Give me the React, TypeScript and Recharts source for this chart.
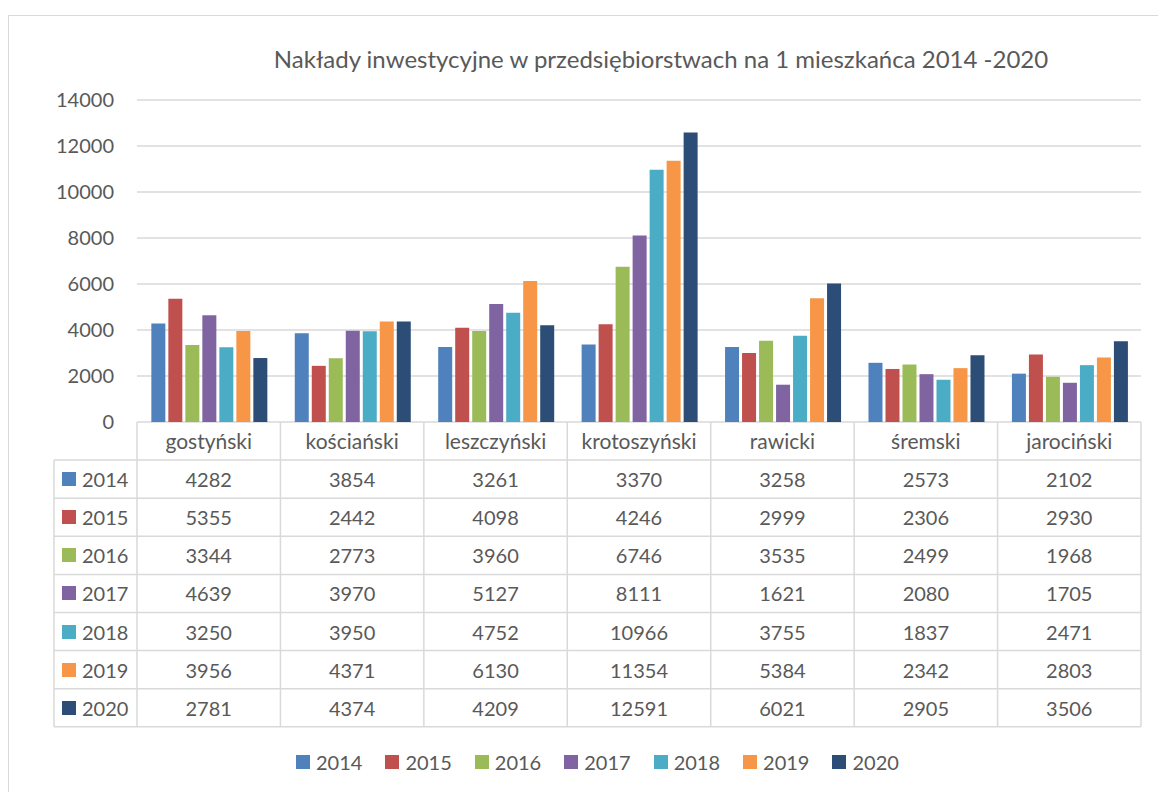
import { BarChart, Bar, XAxis, YAxis, CartesianGrid } from 'recharts';

const categories = ['gostyński', 'kościański', 'leszczyński', 'krotoszyński', 'rawicki', 'śremski', 'jarociński'];
const years = ['2014', '2015', '2016', '2017', '2018', '2019', '2020'];
const v2014 = [4282, 3854, 3261, 3370, 3258, 2573, 2102];
const v2015 = [5355, 2442, 4098, 4246, 2999, 2306, 2930];
const v2016 = [3344, 2773, 3960, 6746, 3535, 2499, 1968];
const v2017 = [4639, 3970, 5127, 8111, 1621, 2080, 1705];
const v2018 = [3250, 3950, 4752, 10966, 3755, 1837, 2471];
const v2019 = [3956, 4371, 6130, 11354, 5384, 2342, 2803];
const v2020 = [2781, 4374, 4209, 12591, 6021, 2905, 3506];
const yTicks = [0, 2000, 4000, 6000, 8000, 10000, 12000, 14000];

const colors = ['#4F81BD', '#C0504D', '#9BBB59', '#8064A2', '#4BACC6', '#F79646', '#2C4D75'];
const series = [v2014, v2015, v2016, v2017, v2018, v2019, v2020];

const data = categories.map((name, i) => {
  const row: Record<string, string | number> = { name };
  years.forEach((y, s) => (row[y] = series[s][i]));
  return row;
});

const font = 'Lato, "Open Sans", sans-serif';
const textColor = '#595959';
const lineColor = '#d9d9d9';

// plot area geometry
const plotLeft = 137;
const plotRight = 1141;
const plotTop = 100;
const plotBottom = 422;
const colW = (plotRight - plotLeft) / categories.length;
const keyLeft = 54;
const rowH = 38.1;

export default function App() {
  return (
    <div style={{ position: 'relative', width: 1158, height: 792, overflow: 'hidden', background: '#fff', fontFamily: font, color: textColor }}>
      <style>{'body{margin:0}'}</style>
      <div style={{ position: 'absolute', left: 8, top: 15, width: 1170, height: 800, border: `1px solid ${lineColor}`, boxSizing: 'border-box' }} />
      <div style={{ position: 'absolute', left: 661, top: 44, transform: 'translateX(-50%)', whiteSpace: 'nowrap', fontSize: 24 }}>
        Nakłady inwestycyjne w przedsiębiorstwach na 1 mieszkańca 2014 -2020
      </div>
      <div style={{ position: 'absolute', left: 0, top: 0 }}>
        <BarChart
          width={1158}
          height={440}
          data={data}
          margin={{ top: plotTop, right: 1158 - plotRight, left: plotLeft - 60, bottom: 440 - plotBottom }}
          barCategoryGap="10%"
          barGap={3}
        >
          <CartesianGrid vertical={false} stroke={lineColor} strokeWidth={1.5} />
          <XAxis dataKey="name" hide />
          <YAxis
            width={60}
            domain={[0, 14000]}
            ticks={yTicks}
            axisLine={false}
            tickLine={false}
            tickMargin={17}
            tick={{ fill: textColor, fontSize: 20, fontFamily: font }}
          />
          {years.map((y, s) => (
            <Bar key={y} dataKey={y} fill={colors[s]} isAnimationActive={false} />
          ))}
        </BarChart>
      </div>

      {/* data table */}
      {categories.map((c, i) => (
        <div
          key={c}
          style={{
            position: 'absolute',
            left: plotLeft + i * colW,
            top: plotBottom,
            width: colW,
            height: rowH,
            lineHeight: `${rowH}px`,
            textAlign: 'center',
            fontSize: 21,
          }}
        >
          {c}
        </div>
      ))}
      {years.map((y, s) => (
        <div key={y}>
          <div
            style={{
              position: 'absolute',
              left: keyLeft,
              top: plotBottom + (s + 1) * rowH,
              width: plotLeft - keyLeft,
              height: rowH,
              lineHeight: `${rowH}px`,
              fontSize: 20,
              display: 'flex',
              alignItems: 'center',
            }}
          >
            <span style={{ display: 'inline-block', width: 14, height: 14, background: colors[s], marginLeft: 8, marginRight: 6 }} />
            {y}
          </div>
          {series[s].map((v, i) => (
            <div
              key={i}
              style={{
                position: 'absolute',
                left: plotLeft + i * colW,
                top: plotBottom + (s + 1) * rowH,
                width: colW,
                height: rowH,
                lineHeight: `${rowH}px`,
                textAlign: 'center',
                fontSize: 20,
              }}
            >
              {v}
            </div>
          ))}
        </div>
      ))}
      {/* table lines */}
      <svg style={{ position: 'absolute', left: 0, top: 0 }} width={1158} height={792}>
        {Array.from({ length: 8 }, (_, r) => {
          const yy = plotBottom + (r + 1) * rowH;
          return <line key={'h' + r} x1={keyLeft} x2={plotRight} y1={yy} y2={yy} stroke={lineColor} strokeWidth={1.5} />;
        })}
        {Array.from({ length: 8 }, (_, c) => {
          const xx = plotLeft + c * colW;
          return <line key={'v' + c} x1={xx} x2={xx} y1={plotBottom} y2={plotBottom + 8 * rowH} stroke={lineColor} strokeWidth={1.5} />;
        })}
        <line x1={keyLeft} x2={keyLeft} y1={plotBottom + rowH} y2={plotBottom + 8 * rowH} stroke={lineColor} strokeWidth={1.5} />
      </svg>

      {/* legend */}
      <div style={{ position: 'absolute', left: 296, top: 748, display: 'flex', fontSize: 20, lineHeight: '28px' }}>
        {years.map((y, s) => (
          <div key={y} style={{ display: 'flex', alignItems: 'center', marginRight: 23 }}>
            <span style={{ display: 'inline-block', width: 14, height: 14, background: colors[s], marginRight: 6 }} />
            {y}
          </div>
        ))}
      </div>
    </div>
  );
}
